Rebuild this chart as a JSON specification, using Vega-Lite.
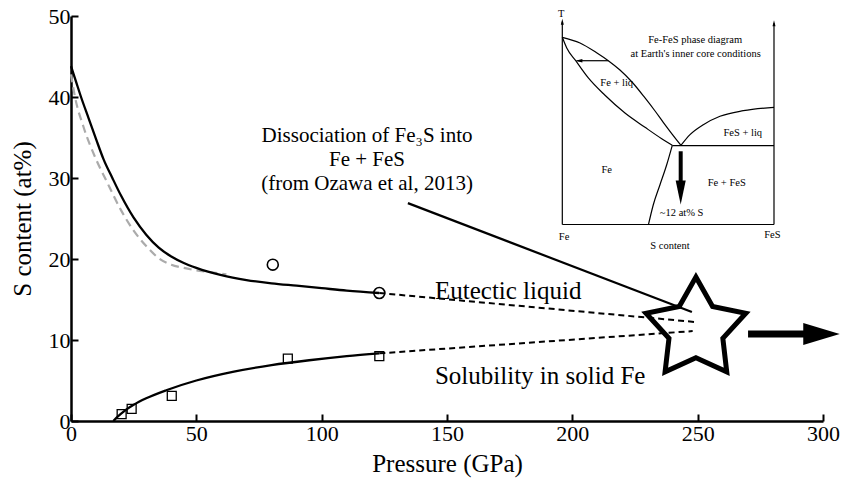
{
  "$schema": "https://vega.github.io/schema/vega-lite/v6.json",
  "width": 752,
  "height": 405,
  "autosize": {"type": "none"},
  "padding": {"left": 71, "top": 16, "right": 18, "bottom": 61},
  "background": "white",
  "config": {
    "view": {"stroke": null},
    "font": "Liberation Serif",
    "axis": {
      "grid": false,
      "domainColor": "black",
      "domainWidth": 2.5,
      "tickColor": "black",
      "tickWidth": 2,
      "tickSize": -7,
      "labelFont": "Liberation Serif",
      "labelFontSize": 22,
      "labelColor": "black",
      "labelFlush": false,
      "labelOverlap": false,
      "titleFont": "Liberation Serif",
      "titleFontSize": 25,
      "titleFontWeight": "normal",
      "titleColor": "black"
    }
  },
  "datasets": {
    "liquid": [
      {"x": 0, "y": 43.8}, {"x": 2, "y": 41.9}, {"x": 4, "y": 40.0}, {"x": 7, "y": 37.4},
      {"x": 10, "y": 34.8}, {"x": 13, "y": 32.3}, {"x": 16.5, "y": 30.0}, {"x": 20, "y": 27.8},
      {"x": 25, "y": 25.1}, {"x": 30, "y": 23.0}, {"x": 35, "y": 21.4}, {"x": 40, "y": 20.3},
      {"x": 45, "y": 19.5}, {"x": 50, "y": 18.9}, {"x": 60, "y": 18.0}, {"x": 70, "y": 17.4},
      {"x": 80, "y": 17.0}, {"x": 90, "y": 16.7}, {"x": 100, "y": 16.4}, {"x": 110, "y": 16.1},
      {"x": 123, "y": 15.8}
    ],
    "calc": [
      {"x": 0, "y": 42.8}, {"x": 1.6, "y": 40.0}, {"x": 5, "y": 36.3}, {"x": 10, "y": 32.3},
      {"x": 14.2, "y": 29.6}, {"x": 20, "y": 26.0}, {"x": 25, "y": 23.5}, {"x": 30, "y": 21.6},
      {"x": 35, "y": 20.1}, {"x": 40, "y": 19.3}, {"x": 45, "y": 18.9}, {"x": 50, "y": 18.6},
      {"x": 55, "y": 18.4}, {"x": 62, "y": 18.1}
    ],
    "solidFe": [
      {"x": 16.9, "y": 0}, {"x": 18, "y": 0.35}, {"x": 20, "y": 0.9}, {"x": 22, "y": 1.4},
      {"x": 25, "y": 2.0}, {"x": 30, "y": 2.8}, {"x": 38, "y": 3.8}, {"x": 50, "y": 5.0},
      {"x": 65, "y": 6.1}, {"x": 80, "y": 6.9}, {"x": 95, "y": 7.5}, {"x": 110, "y": 8.0},
      {"x": 123, "y": 8.35}
    ],
    "extrap": [
      {"series": "liquid", "x": 123, "y": 15.8}, {"series": "liquid", "x": 249.7, "y": 12.2},
      {"series": "solid", "x": 123, "y": 8.35}, {"series": "solid", "x": 248, "y": 11.1}
    ],
    "liqPts": [{"x": 80.5, "y": 19.3}, {"x": 123, "y": 15.8}],
    "solPts": [
      {"x": 20.2, "y": 0.85}, {"x": 24.2, "y": 1.5}, {"x": 40.2, "y": 3.1},
      {"x": 86.5, "y": 7.7}, {"x": 123, "y": 8.0}
    ],
    "pointer": [{"x": 134.4, "y": 26.9}, {"x": 247.7, "y": 13.45}],
    "star": [{"x": 249.3, "y": 11.3}],
    "arrow": [{"x": 270.1, "x2": 292.5, "y": 10.74}],
    "arrowHead": [{"x": 299.4, "y": 10.74}],
    "annot": [
      {"text": "Dissociation of Fe₃S into", "x": 118.1, "y": 35.19},
      {"text": "Fe + FeS", "x": 118.1, "y": 32.22},
      {"text": "(from Ozawa et al, 2013)", "x": 118.1, "y": 29.26}
    ],
    "curveLabels": [
      {"text": "Eutectic liquid", "x": 145.2, "y": 16.05},
      {"text": "Solubility in solid Fe", "x": 145.2, "y": 5.56}
    ],
    "insetLines": [
      {"seg": "liquidus", "i": 0, "x": 196.0, "y": 47.37},
      {"seg": "liquidus", "i": 1, "x": 203.06, "y": 46.67},
      {"seg": "liquidus", "i": 2, "x": 209.84, "y": 45.43},
      {"seg": "liquidus", "i": 3, "x": 214.35, "y": 44.48},
      {"seg": "liquidus", "i": 4, "x": 219.0, "y": 43.33},
      {"seg": "liquidus", "i": 5, "x": 223.8, "y": 41.85},
      {"seg": "liquidus", "i": 6, "x": 229.0, "y": 39.88},
      {"seg": "liquidus", "i": 7, "x": 233.0, "y": 38.27},
      {"seg": "liquidus", "i": 8, "x": 236.2, "y": 36.91},
      {"seg": "liquidus", "i": 9, "x": 239.8, "y": 35.43},
      {"seg": "liquidus", "i": 10, "x": 243.47, "y": 33.99},
      {"seg": "solidus", "i": 0, "x": 196.0, "y": 47.37},
      {"seg": "solidus", "i": 1, "x": 197.77, "y": 46.05},
      {"seg": "solidus", "i": 2, "x": 201.36, "y": 44.48},
      {"seg": "solidus", "i": 3, "x": 206.38, "y": 42.35},
      {"seg": "solidus", "i": 4, "x": 213.03, "y": 40.21},
      {"seg": "solidus", "i": 5, "x": 221.0, "y": 38.02},
      {"seg": "solidus", "i": 6, "x": 228.99, "y": 36.26},
      {"seg": "solidus", "i": 7, "x": 235.65, "y": 34.85},
      {"seg": "solidus", "i": 8, "x": 239.88, "y": 34.04},
      {"seg": "solvus", "i": 0, "x": 239.88, "y": 34.04},
      {"seg": "solvus", "i": 1, "x": 237.65, "y": 31.64},
      {"seg": "solvus", "i": 2, "x": 234.97, "y": 29.17},
      {"seg": "solvus", "i": 3, "x": 232.3, "y": 26.7},
      {"seg": "solvus", "i": 4, "x": 230.38, "y": 24.26},
      {"seg": "fesLiquidus", "i": 0, "x": 243.23, "y": 33.99},
      {"seg": "fesLiquidus", "i": 1, "x": 246.94, "y": 35.35},
      {"seg": "fesLiquidus", "i": 2, "x": 252.25, "y": 36.58},
      {"seg": "fesLiquidus", "i": 3, "x": 258.9, "y": 37.62},
      {"seg": "fesLiquidus", "i": 4, "x": 268.2, "y": 38.31},
      {"seg": "fesLiquidus", "i": 5, "x": 280.45, "y": 38.73},
      {"seg": "eutectic", "i": 0, "x": 239.88, "y": 33.99},
      {"seg": "eutectic", "i": 1, "x": 280.45, "y": 33.99},
      {"seg": "axisLeft", "i": 0, "x": 196.0, "y": 24.26},
      {"seg": "axisLeft", "i": 1, "x": 196.0, "y": 49.3},
      {"seg": "axisRight", "i": 0, "x": 280.45, "y": 24.26},
      {"seg": "axisRight", "i": 1, "x": 280.45, "y": 49.1},
      {"seg": "axisBottom", "i": 0, "x": 196.0, "y": 24.26},
      {"seg": "axisBottom", "i": 1, "x": 280.45, "y": 24.26},
      {"seg": "tieLine", "i": 0, "x": 202.0, "y": 44.48},
      {"seg": "tieLine", "i": 1, "x": 214.35, "y": 44.48}
    ],
    "insetUpHeads": [{"x": 196.0, "y": 49.3}, {"x": 280.45, "y": 49.1}],
    "insetLeftHead": [{"x": 202.6, "y": 44.48}],
    "insetShaft": [{"x": 243.23, "y": 33.3, "y2": 29.3}],
    "insetDownHead": [{"x": 243.23, "y": 28.2}],
    "insetLabels": [
      {"text": "T", "x": 195.6, "y": 50.2},
      {"text": "Fe-FeS phase diagram", "x": 249.0, "y": 47.04},
      {"text": "at Earth's inner core conditions", "x": 249.2, "y": 45.31},
      {"text": "Fe + liq", "x": 217.7, "y": 41.69},
      {"text": "FeS + liq", "x": 268.0, "y": 35.56},
      {"text": "Fe", "x": 213.7, "y": 31.02},
      {"text": "Fe + FeS", "x": 261.6, "y": 29.38},
      {"text": "~12 at% S", "x": 243.6, "y": 25.68},
      {"text": "Fe", "x": 196.7, "y": 22.75},
      {"text": "FeS", "x": 279.8, "y": 22.96},
      {"text": "S content", "x": 238.96, "y": 21.64}
    ]
  },
  "encoding": {
    "x": {
      "field": "x", "type": "quantitative",
      "scale": {"domain": [0, 300], "nice": false, "zero": false},
      "axis": {"title": "Pressure (GPa)", "values": [0, 50, 100, 150, 200, 250, 300], "labelPadding": 9, "titlePadding": 7}
    },
    "y": {
      "field": "y", "type": "quantitative",
      "scale": {"domain": [0, 50], "nice": false, "zero": false},
      "axis": {"title": "S content (at%)", "values": [0, 10, 20, 30, 40, 50], "labelPadding": 8, "titlePadding": 13}
    }
  },
  "layer": [
    {
      "data": {"name": "calc"},
      "mark": {"type": "line", "color": "#ababab", "strokeWidth": 2.2, "strokeDash": [8, 5], "interpolate": "monotone"},
      "encoding": {}
    },
    {
      "data": {"name": "liquid"},
      "mark": {"type": "line", "color": "black", "strokeWidth": 2.3, "interpolate": "monotone"},
      "encoding": {}
    },
    {
      "data": {"name": "solidFe"},
      "mark": {"type": "line", "color": "black", "strokeWidth": 2.3, "interpolate": "monotone"},
      "encoding": {}
    },
    {
      "data": {"name": "extrap"},
      "mark": {"type": "line", "color": "black", "strokeWidth": 2, "strokeDash": [6, 4]},
      "encoding": {"detail": {"field": "series"}}
    },
    {
      "data": {"name": "liqPts"},
      "mark": {"type": "point", "shape": "circle", "filled": false, "color": "black", "strokeWidth": 1.6, "size": 120, "opacity": 1},
      "encoding": {}
    },
    {
      "data": {"name": "solPts"},
      "mark": {"type": "point", "shape": "square", "filled": false, "color": "black", "strokeWidth": 1.3, "size": 80, "opacity": 1},
      "encoding": {}
    },
    {
      "data": {"name": "pointer"},
      "mark": {"type": "line", "color": "black", "strokeWidth": 2.2},
      "encoding": {}
    },
    {
      "data": {"name": "star"},
      "mark": {"type": "point", "shape": "M0,-1L0.3175,-0.437L0.951,-0.309L0.5135,0.167L0.588,0.809L0,0.54L-0.588,0.809L-0.5135,0.167L-0.951,-0.309L-0.3175,-0.437Z", "filled": false, "color": "black", "strokeWidth": 5, "strokeJoin": "miter", "size": 11000, "opacity": 1},
      "encoding": {}
    },
    {
      "data": {"name": "arrow"},
      "mark": {"type": "rule", "color": "black", "strokeWidth": 7},
      "encoding": {"x2": {"field": "x2"}}
    },
    {
      "data": {"name": "arrowHead"},
      "mark": {"type": "point", "shape": "M-1,-0.6L1,0L-1,0.6Z", "filled": true, "color": "black", "size": 1330, "opacity": 1},
      "encoding": {}
    },
    {
      "data": {"name": "annot"},
      "mark": {"type": "text", "font": "Liberation Serif", "fontSize": 21, "align": "center", "baseline": "middle", "color": "black"},
      "encoding": {"text": {"field": "text"}}
    },
    {
      "data": {"name": "curveLabels"},
      "mark": {"type": "text", "font": "Liberation Serif", "fontSize": 25, "align": "left", "baseline": "middle", "color": "black"},
      "encoding": {"text": {"field": "text"}}
    },
    {
      "data": {"name": "insetLines"},
      "mark": {"type": "line", "color": "black", "strokeWidth": 1.2, "interpolate": "monotone"},
      "encoding": {"detail": {"field": "seg"}, "order": {"field": "i", "type": "quantitative"}}
    },
    {
      "data": {"name": "insetUpHeads"},
      "mark": {"type": "point", "shape": "M-0.5,1L0,-1L0.5,1Z", "filled": true, "color": "black", "size": 36, "opacity": 1},
      "encoding": {}
    },
    {
      "data": {"name": "insetLeftHead"},
      "mark": {"type": "point", "shape": "M1,-0.5L-1,0L1,0.5Z", "filled": true, "color": "black", "size": 49, "opacity": 1},
      "encoding": {}
    },
    {
      "data": {"name": "insetShaft"},
      "mark": {"type": "rule", "color": "black", "strokeWidth": 4},
      "encoding": {"y2": {"field": "y2"}}
    },
    {
      "data": {"name": "insetDownHead"},
      "mark": {"type": "point", "shape": "M-0.42,-1L0.42,-1L0,1Z", "filled": true, "color": "black", "size": 576, "opacity": 1},
      "encoding": {}
    },
    {
      "data": {"name": "insetLabels"},
      "mark": {"type": "text", "font": "Liberation Serif", "fontSize": 10.5, "align": "center", "baseline": "middle", "color": "black"},
      "encoding": {"text": {"field": "text"}}
    }
  ]
}
